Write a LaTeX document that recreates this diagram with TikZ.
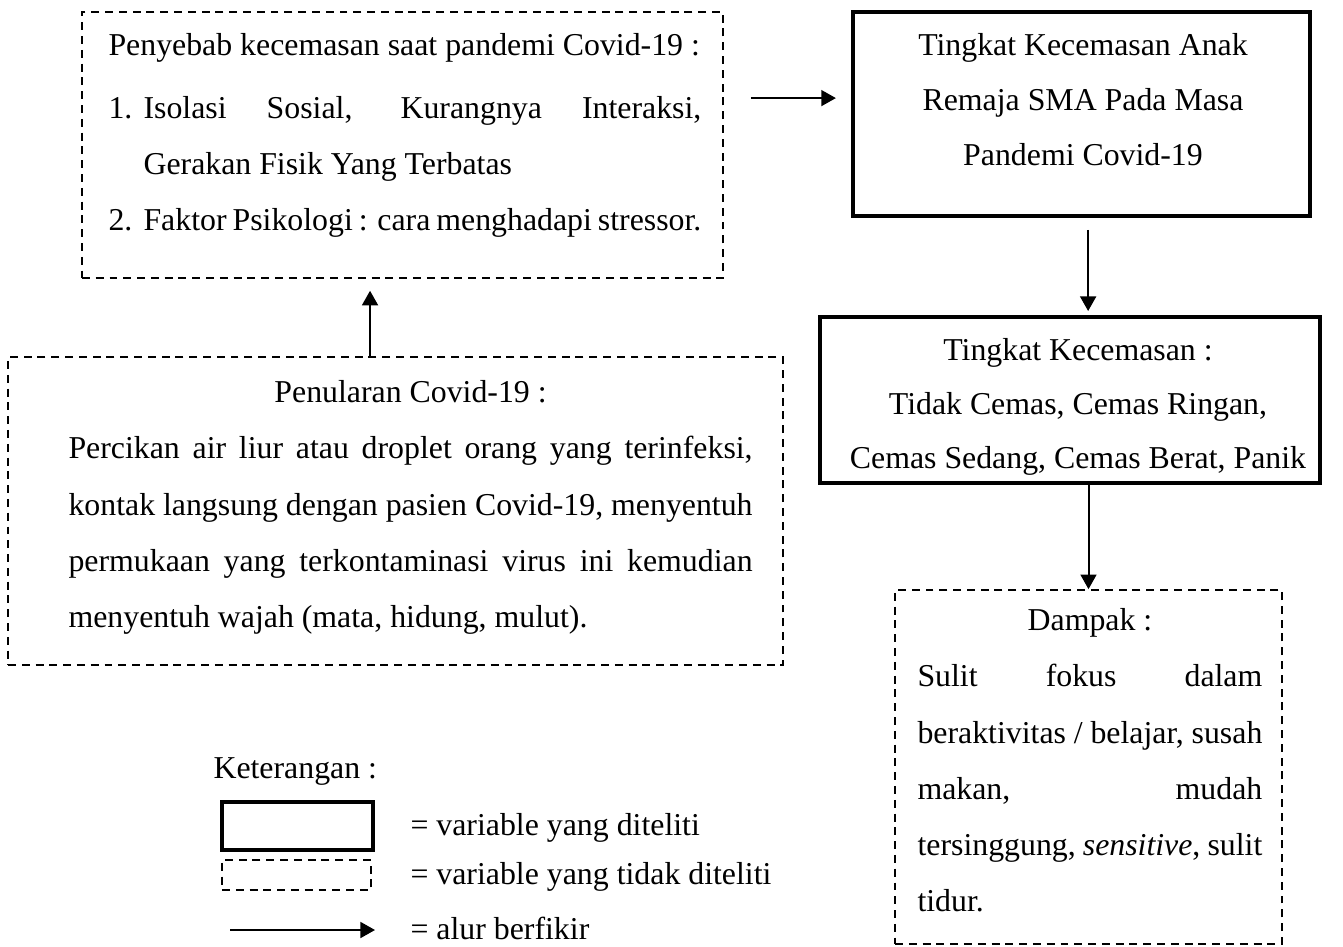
\documentclass[tikz,border=0pt]{standalone}
\usepackage{fontspec}
\setmainfont{Liberation Serif}
\usetikzlibrary{arrows.meta}
\setlength{\parindent}{0pt}

\begin{document}
\begin{tikzpicture}[x=0.377pt, y=-0.377pt,
    tebal/.style={draw, line width=1.5pt, inner sep=0pt},
    putus/.style={draw, line width=0.6pt, dash pattern=on 3pt off 2.2pt, inner sep=0pt},
    alur/.style={-{Triangle[length=5.5pt, width=6pt]}, line width=0.75pt},
    teks/.style={inner sep=0pt, font=\fontsize{12}{21.2}\selectfont}]
    \useasboundingbox (0, 0) rectangle (1343, 946);

    \node[putus, minimum width=241.7pt, minimum height=100.3pt] (P) at (402.5, 145) {};
    \node[tebal, minimum width=172.3pt, minimum height=76.9pt] (T) at (1081.5, 114) {};
    \node[tebal, minimum width=188.5pt, minimum height=62.6pt] (K) at (1070, 400) {};
    \node[putus, minimum width=145.9pt, minimum height=133.5pt] (D) at (1088.5, 767) {};
    \node[putus, minimum width=292.2pt, minimum height=116.1pt] (C) at (395.5, 511) {};

    \node[teks, anchor=north west, text width=223.5pt, align=justify] (Ptxt) at (108, 33) {%
        Penyebab kecemasan saat pandemi Covid-19 :\par\vspace{2.5pt}
        \hangindent=13.2pt \makebox[13.2pt][l]{1.}Isolasi Sosial, Kurangnya Interaksi,\linebreak
        Gerakan Fisik Yang Terbatas\par
        \hangindent=13.2pt \makebox[13.2pt][l]{2.}Faktor Psikologi : cara menghadapi stressor.};
    \node[teks, anchor=north, align=center, font=\fontsize{12}{20.7}\selectfont] (Ttxt) at (1083, 33)
        {Tingkat Kecemasan Anak\\Remaja SMA Pada Masa\\Pandemi Covid-19};
    \node[teks, anchor=north, align=center, font=\fontsize{12}{20.3}\selectfont] (Ktxt) at (1078, 338)
        {Tingkat Kecemasan :\\Tidak Cemas, Cemas Ringan,\\Cemas Sedang, Cemas Berat, Panik};
    \node[teks, anchor=north west, text width=130pt, align=justify] (Dtxt) at (917, 608) {%
        {\centering Dampak :\par}
        Sulit fokus dalam\linebreak
        beraktivitas / belajar, susah\linebreak
        makan, mudah\linebreak
        tersinggung, \textit{sensitive}, sulit\linebreak
        tidur.};
    \node[teks, anchor=north west, text width=257.9pt, align=justify] (Ctxt) at (68, 380) {%
        {\centering Penularan Covid-19 :\par}
        Percikan air liur atau droplet orang yang terinfeksi,\linebreak
        kontak langsung dengan pasien Covid-19, menyentuh\linebreak
        permukaan yang terkontaminasi virus ini kemudian\linebreak
        menyentuh wajah (mata, hidung, mulut).};

    \coordinate (pt) at ([yshift=6pt]T.west);
    \draw[alur, shorten <=10.2pt, shorten >=5.7pt] (P.east |- pt) -- (pt);
    \coordinate (tk) at ([xshift=2.5pt]T.south);
    \draw[alur, shorten <=4.5pt, shorten >=1.5pt] (tk) -- (tk |- K.north);
    \draw[alur] (K.south -| D.north) -- (D.north);
    \coordinate (cp) at ([xshift=-9.6pt]C.north);
    \draw[alur, shorten >=4.5pt] (cp) -- (cp |- P.south);

    % keterangan
    \node[teks, anchor=west] (ket) at (213, 772) {Keterangan :};
    \node[tebal, minimum width=56.9pt, minimum height=18.1pt] (L1) at (297.5, 826) {};
    \node[putus, minimum width=56.2pt, minimum height=11.3pt] (L2) at (296.5, 875) {};
    \coordinate (La) at (230, 930);
    \coordinate (Lb) at (375, 930);
    \draw[alur] (La) -- (Lb);
    \node[teks, anchor=west] (L1txt) at (410, 828) {= variable yang diteliti};
    \node[teks, anchor=west] (L2txt) at (410, 877) {= variable yang tidak diteliti};
    \node[teks, anchor=west] (L3txt) at (410, 928) {= alur berfikir};
\end{tikzpicture}
\end{document}
